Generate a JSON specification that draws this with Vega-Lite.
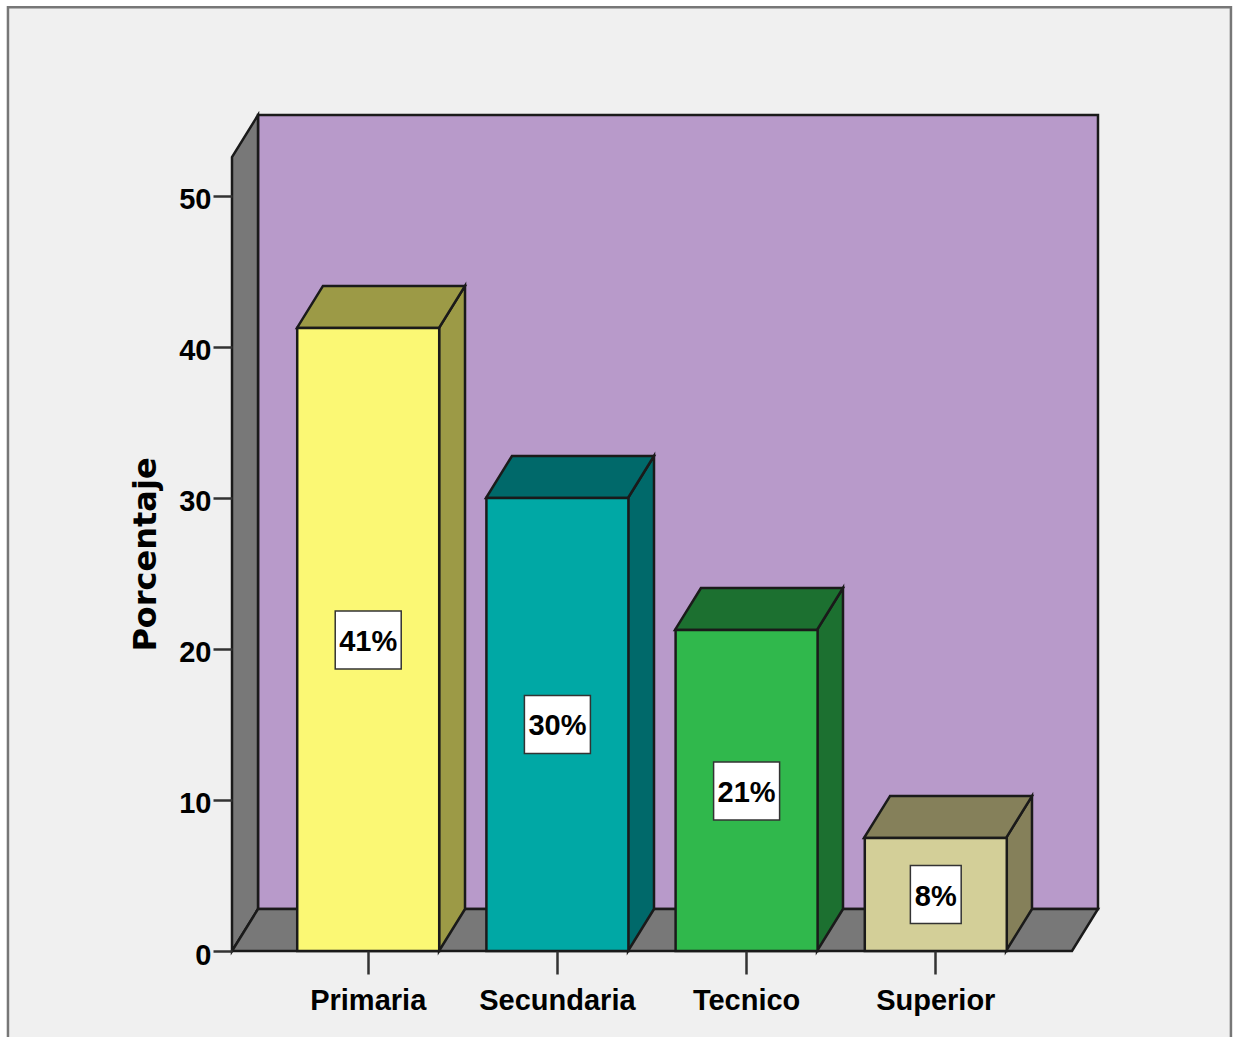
{
"$schema":"https://vega.github.io/schema/vega-lite/v6.json",
"autosize":{"type":"none"},
"padding":{"left":232,"top":157,"right":164,"bottom":86},
"width":840,"height":794,
"background":"#ffffff",
"config":{"view":{"stroke":null}},
"datasets":{
"marco":[{"x0":-0.905,"x1":5.566,"y0":-6.5,"y1":62.5}],
"pared":[{"x0":0.418,"x1":4.8625,"y0":2.78,"y1":55.36}],
"lateral":[{"x":0.2804,"low":0,"high":52.58},{"x":0.418,"low":2.78,"high":55.36}],
"piso":[{"v":0,"left":0.2804,"right":4.725},{"v":2.78,"left":0.418,"right":4.8625}],
"caras":[
{"category":"Primaria","x":1.3757,"low":0,"high":41.26},{"category":"Primaria","x":1.5133,"low":2.78,"high":44.04},
{"category":"Secundaria","x":2.3757,"low":0,"high":30},{"category":"Secundaria","x":2.5133,"low":2.78,"high":32.78},
{"category":"Tecnico","x":3.3757,"low":0,"high":21.26},{"category":"Tecnico","x":3.5133,"low":2.78,"high":24.04},
{"category":"Superior","x":4.3757,"low":0,"high":7.48},{"category":"Superior","x":4.5133,"low":2.78,"high":10.26}],
"tapas":[
{"category":"Primaria","v":41.26,"left":0.6243,"right":1.3757},{"category":"Primaria","v":44.04,"left":0.7619,"right":1.5133},
{"category":"Secundaria","v":30,"left":1.6243,"right":2.3757},{"category":"Secundaria","v":32.78,"left":1.7619,"right":2.5133},
{"category":"Tecnico","v":21.26,"left":2.6243,"right":3.3757},{"category":"Tecnico","v":24.04,"left":2.7619,"right":3.5133},
{"category":"Superior","v":7.48,"left":3.6243,"right":4.3757},{"category":"Superior","v":10.26,"left":3.7619,"right":4.5133}],
"barras":[
{"category":"Primaria","value":41.26,"mitad":20.6,"label":"41%"},
{"category":"Secundaria","value":30,"mitad":15,"label":"30%"},
{"category":"Tecnico","value":21.26,"mitad":10.6,"label":"21%"},
{"category":"Superior","value":7.48,"mitad":3.74,"label":"8%"}]
},
"resolve":{"scale":{"x":"independent","color":"independent","shape":"independent"},"axis":{"x":"independent"}},
"layer":[
{"data":{"name":"marco"},"mark":{"type":"rect","fill":"#f0f0f0","stroke":"#777777","strokeWidth":2.5,"clip":false},
"encoding":{"x":{"field":"x0","type":"quantitative","scale":{"domain":[0.2804,4.725],"nice":false,"zero":false},"axis":null},"x2":{"field":"x1"},
"y":{"field":"y0","type":"quantitative","scale":{"domain":[0,52.58],"nice":false},
"axis":{"zindex":1,"title":"Porcentaje","values":[0,10,20,30,40,50],"domain":false,"grid":false,"tickSize":19,"tickWidth":2.5,"tickColor":"#333333","labelFont":"Liberation Sans","labelFontWeight":"bold","labelFontSize":29,"labelColor":"#000000","labelPadding":2,"labelOffset":4,"titleFont":"DejaVu Sans","titleFontWeight":"bold","titleFontSize":32,"titleColor":"#000000","titlePadding":16}},"y2":{"field":"y1"}}},
{"data":{"name":"pared"},"mark":{"type":"rect","fill":"#b89aca","stroke":"#1a1a1a","strokeWidth":2.5},
"encoding":{"x":{"field":"x0","type":"quantitative","scale":{"domain":[0.2804,4.725],"nice":false,"zero":false},"axis":null},"x2":{"field":"x1"},"y":{"field":"y0","type":"quantitative"},"y2":{"field":"y1"}}},
{"data":{"name":"lateral"},"mark":{"type":"area","orient":"vertical","fill":"#787878","stroke":"#1a1a1a","strokeWidth":2.5,"opacity":1},
"encoding":{"x":{"field":"x","type":"quantitative","scale":{"domain":[0.2804,4.725],"nice":false,"zero":false},"axis":null},"y":{"field":"low","type":"quantitative"},"y2":{"field":"high"}}},
{"data":{"name":"piso"},"mark":{"type":"area","orient":"horizontal","fill":"#787878","stroke":"#1a1a1a","strokeWidth":2.5,"opacity":1},
"encoding":{"y":{"field":"v","type":"quantitative"},"x":{"field":"left","type":"quantitative","scale":{"domain":[0.2804,4.725],"nice":false,"zero":false},"axis":null},"x2":{"field":"right"}}},
{"data":{"name":"caras"},"mark":{"type":"area","orient":"vertical","stroke":"#1a1a1a","strokeWidth":2.5,"opacity":1},
"encoding":{"detail":{"field":"category"},"x":{"field":"x","type":"quantitative","scale":{"domain":[0.2804,4.725],"nice":false,"zero":false},"axis":null},"y":{"field":"low","type":"quantitative"},"y2":{"field":"high"},
"color":{"field":"category","type":"nominal","legend":null,"scale":{"domain":["Primaria","Secundaria","Tecnico","Superior"],"range":["#9c9a46","#00696a","#1c7030","#85805a"]}}}},
{"data":{"name":"tapas"},"mark":{"type":"area","orient":"horizontal","stroke":"#1a1a1a","strokeWidth":2.5,"opacity":1},
"encoding":{"detail":{"field":"category"},"y":{"field":"v","type":"quantitative"},"x":{"field":"left","type":"quantitative","scale":{"domain":[0.2804,4.725],"nice":false,"zero":false},"axis":null},"x2":{"field":"right"},
"color":{"field":"category","type":"nominal","legend":null,"scale":{"domain":["Primaria","Secundaria","Tecnico","Superior"],"range":["#9c9a46","#00696a","#1c7030","#85805a"]}}}},
{"data":{"name":"barras"},"mark":{"type":"bar","size":142,"stroke":"#1a1a1a","strokeWidth":2.5},
"encoding":{"x":{"field":"category","type":"nominal","sort":["Primaria","Secundaria","Tecnico","Superior"],"scale":{"type":"band","domain":["Primaria","Secundaria","Tecnico","Superior"],"paddingInner":0,"paddingOuter":0.22},
"axis":{"zindex":1,"title":null,"labelAngle":0,"domain":false,"grid":false,"tickSize":23,"tickWidth":2.5,"tickColor":"#333333","labelFont":"Liberation Sans","labelFontWeight":"bold","labelFontSize":29,"labelColor":"#000000","labelPadding":12}},
"y":{"field":"value","type":"quantitative"},
"color":{"field":"category","type":"nominal","legend":null,"scale":{"domain":["Primaria","Secundaria","Tecnico","Superior"],"range":["#fbf874","#00a8a5","#30b84c","#d3cf98"]}}}},
{"data":{"name":"barras"},"mark":{"type":"point","filled":true,"fill":"#ffffff","stroke":"#333333","strokeWidth":1.5,"opacity":1,"size":4356},
"encoding":{"x":{"field":"category","type":"nominal","sort":["Primaria","Secundaria","Tecnico","Superior"],"scale":{"type":"band","domain":["Primaria","Secundaria","Tecnico","Superior"],"paddingInner":0,"paddingOuter":0.22},"axis":null},
"y":{"field":"mitad","type":"quantitative"},
"shape":{"field":"label","type":"nominal","legend":null,"scale":{"domain":["41%","30%","21%","8%"],"range":["M-1,-0.88H1V0.88H-1Z","M-1,-0.88H1V0.88H-1Z","M-1,-0.88H1V0.88H-1Z","M-0.77,-0.88H0.77V0.88H-0.77Z"]}}}},
{"data":{"name":"barras"},"mark":{"type":"text","font":"Liberation Sans","fontWeight":"bold","fontSize":29,"color":"#000000","baseline":"middle","align":"center","dy":2},
"encoding":{"x":{"field":"category","type":"nominal","sort":["Primaria","Secundaria","Tecnico","Superior"],"scale":{"type":"band","domain":["Primaria","Secundaria","Tecnico","Superior"],"paddingInner":0,"paddingOuter":0.22},"axis":null},
"y":{"field":"mitad","type":"quantitative"},"text":{"field":"label"}}}
]
}
